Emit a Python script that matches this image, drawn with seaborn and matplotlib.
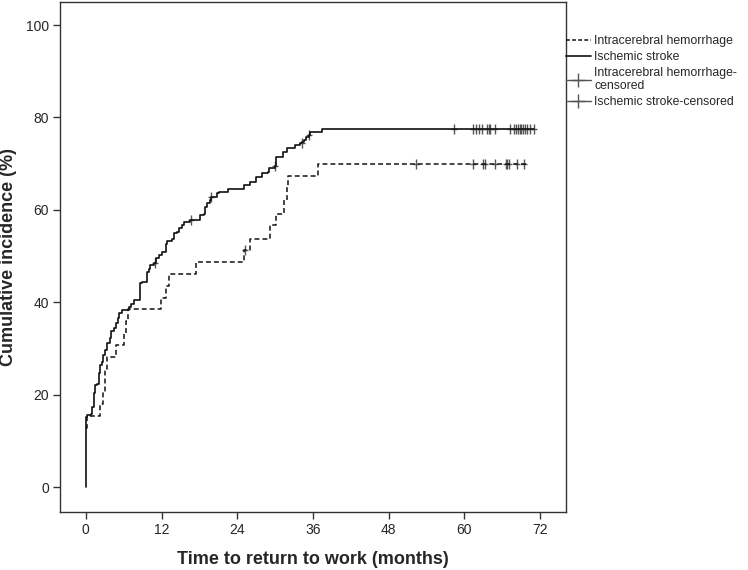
import numpy as np
import pandas as pd
import matplotlib
matplotlib.use("Agg")
import matplotlib.pyplot as plt
from matplotlib.lines import Line2D
import seaborn as sns

sns.set_theme(style="white")
plt.rcParams['font.family'] = ['Liberation Sans', 'DejaVu Sans']

# ---- data ----
ich_t = [0, 0.2, 2.2, 2.7, 3.0, 3.1, 3.3, 4.7, 6.1, 6.4, 6.6, 11.9, 12.7, 13.1, 17.4,
         25.1, 26.0, 29.2, 30.2, 31.4, 31.8, 32.0, 36.8, 70.0]
ich_v = [12.8, 15.4, 17.9, 20.5, 23.1, 25.6, 28.2, 30.8, 33.3, 35.9, 38.5, 41.0, 43.6, 46.2, 48.7,
         51.3, 53.8, 56.7, 59.2, 62.1, 64.9, 67.4, 70.0, 70.0]
ich_cens_t = [25.3, 52.4, 61.4, 62.9, 63.3, 64.9, 66.6, 66.8, 67.1, 68.3, 69.5]
ich_cens_v = [51.3, 70.0, 70.0, 70.0, 70.0, 70.0, 70.0, 70.0, 70.0, 70.0, 70.0]

isc_t = [0, 0, 0.16, 0.79, 1.05, 1.21, 1.42, 1.84, 2.06, 2.27, 2.48, 2.69, 3.0, 3.33, 3.75, 3.97,
         4.39, 4.7, 5.02, 5.23, 5.76, 6.82, 7.14, 7.56, 8.51, 8.94, 9.68, 10.0, 10.2, 10.8,
         11.16, 11.6, 12.0, 12.64, 12.86, 13.7, 13.9, 14.44, 14.76, 15.2, 15.5, 16.56, 18.1,
         18.8, 18.9, 19.2, 19.6, 19.8, 20.8, 21.1, 22.6, 25.0, 26.0, 26.9, 27.0, 27.9, 28.8,
         29.1, 29.9, 30.1, 31.2, 31.3, 31.8, 33.2, 34.0, 34.3, 34.65, 34.85, 35.4, 35.6, 37.5,
         71.0]
isc_v = [0, 15.2, 15.6, 15.9, 17.4, 20.3, 22.1, 22.4, 24.6, 26.4, 27.1, 28.6, 29.6, 31.1, 32.2,
         33.7, 34.4, 35.5, 36.5, 37.6, 38.3, 39.0, 39.7, 40.5, 44.1, 44.4, 46.6, 47.3, 48.1,
         48.4, 49.5, 50.2, 50.9, 52.7, 53.3, 53.8, 54.9, 55.2, 56.0, 56.7, 57.4, 57.8, 58.9,
         59.2, 60.7, 61.4, 62.1, 62.8, 63.6, 63.9, 64.6, 65.4, 66.1, 66.8, 67.2, 67.9, 68.3,
         69.0, 69.4, 71.5, 71.9, 72.6, 73.3, 74.0, 74.4, 74.8, 75.1, 75.8, 76.2, 76.9, 77.6,
         77.6]
isc_cens_t = [10.9, 16.7, 19.9, 30.05, 34.2, 35.3, 58.3, 61.3, 61.8, 62.3, 62.85, 63.5, 63.9,
              64.07, 64.8, 67.2, 67.8, 68.15, 68.5, 68.83, 69.04, 69.36, 69.57, 69.9, 70.4, 70.95]
isc_cens_v = [48.4, 57.8, 62.8, 69.4, 74.4, 76.2] + [77.6] * 20

x_ticks = [0, 12, 24, 36, 48, 60, 72]
y_ticks = [0, 20, 40, 60, 80, 100]
legend_labels = ["Intracerebral hemorrhage", "Ischemic stroke",
                 "Intracerebral hemorrhage-\ncensored", "Ischemic stroke-censored"]

# ---- figure ----
fig = plt.figure(figsize=(7.48, 5.70), dpi=100)
ax = fig.add_axes([60 / 748, 1 - 512 / 570, 506 / 748, 510 / 570])

ich = pd.DataFrame({"t": ich_t, "v": ich_v})
isc = pd.DataFrame({"t": isc_t, "v": isc_v})
sns.lineplot(data=ich, x="t", y="v", ax=ax, estimator=None, sort=False,
             drawstyle="steps-post", color="#111111", linewidth=1.1,
             linestyle=(0, (3.2, 2.0)))
sns.lineplot(data=isc, x="t", y="v", ax=ax, estimator=None, sort=False,
             drawstyle="steps-post", color="#111111", linewidth=1.2)

cens_col = "#555555"
for ct, cv in ((ich_cens_t, ich_cens_v), (isc_cens_t, isc_cens_v)):
    sns.scatterplot(x=ct, y=cv, ax=ax, marker="|", s=60, color=cens_col, linewidth=1.0)
    sns.scatterplot(x=ct, y=cv, ax=ax, marker="_", s=25, color=cens_col, linewidth=1.0)

ax.set_xlim(-4.1, 76.1)
ax.set_ylim(-5.4, 105.0)
ax.set_xticks(x_ticks)
ax.set_yticks(y_ticks)
ax.tick_params(axis="both", direction="out", length=5, width=1, color="#333333",
               labelsize=10, pad=3, bottom=True, left=True)
for s in ax.spines.values():
    s.set_color("#333333")
    s.set_linewidth(1.0)

ax.set_xlabel("Time to return to work (months)", fontsize=13, fontweight="bold", labelpad=10)
ax.set_ylabel("Cumulative incidence (%)", fontsize=13, fontweight="bold", labelpad=6)

handles = [
    Line2D([], [], color="#111111", linestyle=(0, (2.5, 1.5)), linewidth=1.1),
    Line2D([], [], color="#111111", linestyle="-", linewidth=1.2),
    Line2D([], [], color=cens_col, linestyle="-", linewidth=1.0, marker="+", markersize=10),
    Line2D([], [], color=cens_col, linestyle="-", linewidth=1.0, marker="+", markersize=10),
]
fig.legend(handles, legend_labels, loc="upper left",
           bbox_to_anchor=(565 / 748, 1 - 34 / 570), frameon=False,
           fontsize=8.8, handlelength=2.0, handletextpad=0.3, labelspacing=0.3,
           borderaxespad=0, borderpad=0.1)

fig.savefig("out.png", dpi=100)
